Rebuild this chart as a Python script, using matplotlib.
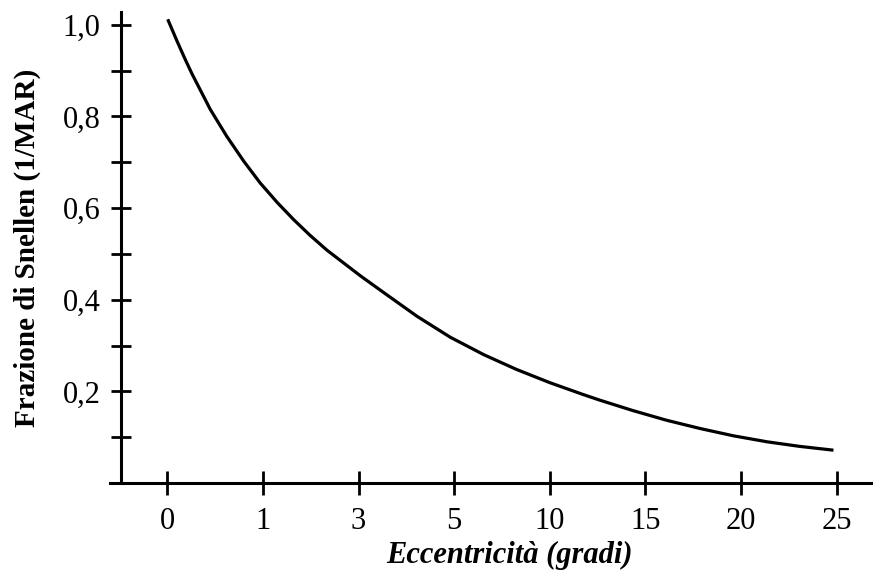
import matplotlib
matplotlib.use("Agg")
import matplotlib.pyplot as plt
from matplotlib.ticker import FixedLocator

# x axis is categorical: evenly spaced labels
x_labels = ["0", "1", "3", "5", "10", "15", "20", "25"]

# curve, x given as position along the label axis
curve_pos = [0.01, 0.10, 0.19, 0.26, 0.45, 0.62, 0.80, 0.97, 1.15, 1.32, 1.49, 1.67,
             2.02, 2.26, 2.61, 2.96, 3.31, 3.65, 4.00, 4.35, 4.52, 4.87, 5.22,
             5.57, 5.92, 6.27, 6.61, 6.95]
curve_val = [1.009, 0.965, 0.923, 0.892, 0.815, 0.757, 0.702, 0.655, 0.612, 0.575, 0.541, 0.508,
             0.452, 0.416, 0.364, 0.318, 0.280, 0.248, 0.219, 0.193, 0.181, 0.158, 0.137,
             0.119, 0.103, 0.090, 0.080, 0.072]

y_major = [0.2, 0.4, 0.6, 0.8, 1.0]
y_minor = [0.1, 0.3, 0.5, 0.7, 0.9]

plt.rcParams['font.family'] = ['Liberation Serif', 'DejaVu Serif']

W, H = 873, 579
fig = plt.figure(figsize=(W / 100, H / 100), dpi=100)
ax = fig.add_axes([110 / W, (H - 483) / H, (W - 110) / W, (483 - 12) / H])

ax.plot(curve_pos, curve_val, color='black', lw=2.3, solid_joinstyle='round')

ax.set_xlim(-0.6, 7.38)
ax.set_ylim(0, 1.028)

for s in ['top', 'right']:
    ax.spines[s].set_visible(False)
ax.spines['left'].set_position(('data', -0.48))
ax.spines['left'].set_linewidth(2.2)
ax.spines['bottom'].set_linewidth(2.2)

ax.set_xticks(range(len(x_labels)))
ax.set_xticklabels(x_labels)
ax.yaxis.set_major_locator(FixedLocator(y_major))
ax.yaxis.set_minor_locator(FixedLocator(y_minor))
ax.set_yticklabels([("%.1f" % v).replace('.', ',') for v in y_major])

ax.tick_params(axis='x', direction='inout', length=17, width=2, labelsize=22, pad=9)
ax.tick_params(axis='y', which='both', direction='inout', length=14, width=2, labelsize=22, pad=8)

fig.text(509 / W, 1 - 555 / H, "Eccentricità (gradi)", fontsize=22, fontweight='bold',
         fontstyle='italic', ha='center', va='center')
fig.text(27 / W, 1 - 248 / H, "Frazione di Snellen (1/MAR)", fontsize=21, fontweight='bold',
         rotation=90, ha='center', va='center')

fig.savefig("out.png", dpi=100)
